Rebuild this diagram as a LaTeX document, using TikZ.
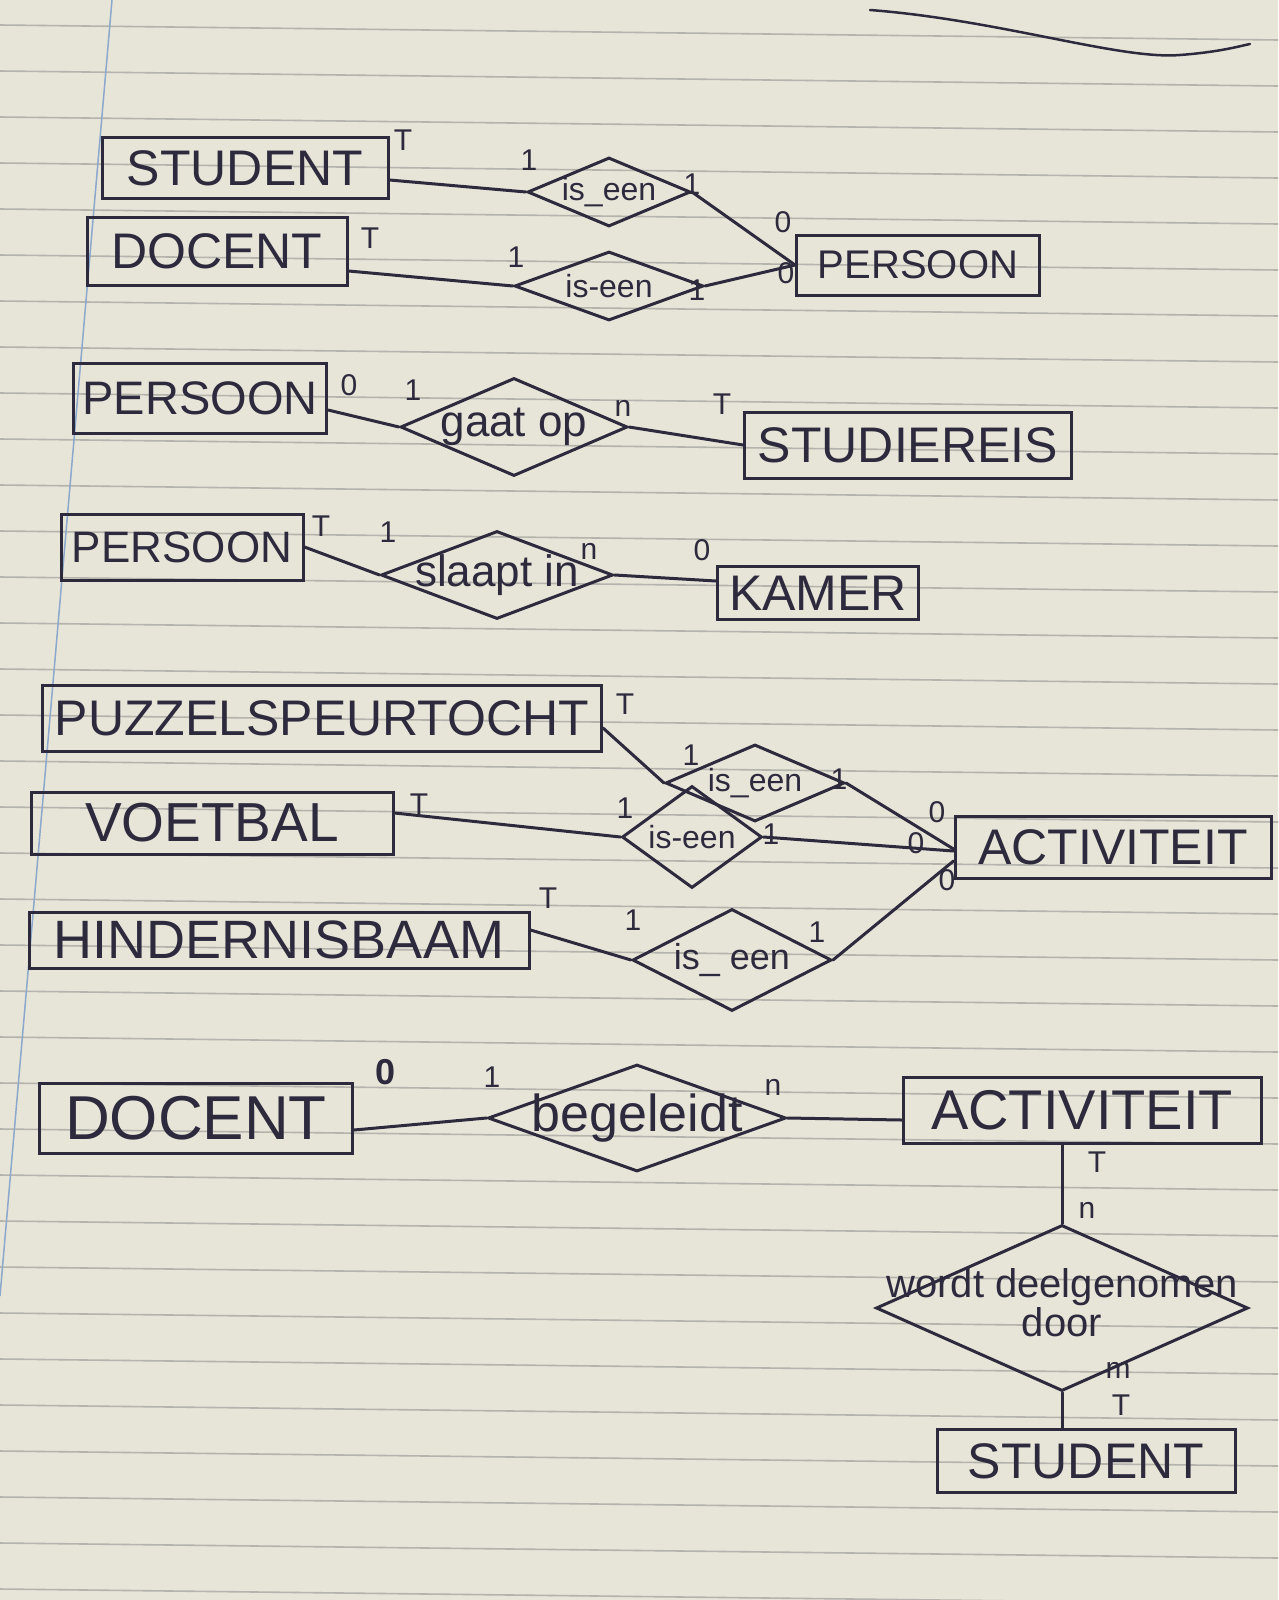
\documentclass[tikz,border=0pt]{standalone}
\usepackage{fontspec}
\setmainfont{Liberation Sans}
\usetikzlibrary{shapes.geometric}
\definecolor{paper}{RGB}{231,228,216}
\definecolor{ink}{RGB}{45,42,62}
\definecolor{ruleline}{RGB}{180,179,172}
\definecolor{marginline}{RGB}{140,168,205}
\newcommand{\fs}[1]{\fontsize{#1}{#1}\selectfont}
\begin{document}
\begin{tikzpicture}[x=1pt,y=-1pt,
  ent/.style={draw=ink, line width=3pt, inner sep=0pt, text=ink, font=\fs{50}},
  rel/.style={draw=ink, line width=3pt, shape=diamond, inner sep=0pt, text=ink},
  card/.style={text=ink, inner sep=0pt, font=\fs{30}},
  conn/.style={draw=ink, line width=3pt, line cap=round}]
\useasboundingbox (0,0) rectangle (1278,1600);
\fill[paper] (0,0) rectangle (1278,1600);
% ruled paper
\foreach \k in {0,...,34}{
  \pgfmathsetmacro\ya{25+46*\k}
  \pgfmathsetmacro\yb{\ya+15}
  \draw[ruleline, line width=1.6pt] (0,\ya) -- (1278,\yb);
}
\draw[marginline, line width=1.5pt] (112,0) -- (0,1296);
% crossed-out heading stroke
\draw[ink, line width=2.5pt, line cap=round] (870,10) .. controls (1000,20) and (1120,60) .. (1180,55) .. controls (1220,52) and (1240,46) .. (1250,44);

% ---------- section 1 ----------
\node[ent, minimum width=286pt, minimum height=61pt] (stud1) at (245,168) {STUDENT};
\node[ent, minimum width=260pt, minimum height=68pt] (doc1) at (217,251) {DOCENT};
\node[ent, minimum width=243pt, minimum height=60pt, font=\fs{40}] (pers1) at (918,265) {PERSOON};
\node[rel, minimum width=163pt, minimum height=69pt, font=\fs{32}] (isA) at (609,192) {\makebox[0pt]{is\_een}};
\node[rel, minimum width=189pt, minimum height=69pt, font=\fs{32}] (isB) at (609,286) {\makebox[0pt]{is-een}};
\draw[conn] ([yshift=-12pt]stud1.east) -- (isA.west);
\draw[conn] (isA.east) -- (pers1.west);
\draw[conn] ([yshift=-20pt]doc1.east) -- (isB.west);
\draw[conn] (isB.east) -- (pers1.west);
\node[card] (c1a) at (403,140) {T};
\node[card] (c1b) at (529,160) {1};
\node[card] (c1c) at (692,184) {1};
\node[card] (c1d) at (370,238) {T};
\node[card] (c1e) at (516,257) {1};
\node[card] (c1f) at (697,290) {1};
\node[card] (c1g) at (783,222) {0};
\node[card] (c1h) at (786,273) {0};

% ---------- section 2 ----------
\node[ent, minimum width=253pt, minimum height=70pt, font=\fs{47}] (pers2) at (200,398) {PERSOON};
\node[ent, minimum width=327pt, minimum height=66pt] (reis) at (908,445) {STUDIEREIS};
\node[rel, minimum width=227pt, minimum height=98pt, font=\fs{44}] (gaat) at (514,427) {\makebox[0pt]{gaat op}};
\draw[conn] ([yshift=-12pt]pers2.east) -- (gaat.west);
\draw[conn] (gaat.east) -- (reis.west);
\node[card] (c2a) at (349,385) {0};
\node[card] (c2b) at (413,390) {1};
\node[card] (c2c) at (623,408) {n};
\node[card] (c2d) at (722,404) {T};

% ---------- section 3 ----------
\node[ent, minimum width=242pt, minimum height=66pt, font=\fs{44}] (pers3) at (182,547) {PERSOON};
\node[ent, minimum width=201pt, minimum height=53pt] (kamer) at (818,593) {KAMER};
\node[rel, minimum width=232pt, minimum height=88pt, font=\fs{44}] (slaapt) at (497,575) {\makebox[0pt]{slaapt in}};
\draw[conn] (pers3.east) -- (slaapt.west);
\draw[conn] (slaapt.east) -- ([yshift=12pt]kamer.west);
\node[card] (c3a) at (321,526) {T};
\node[card] (c3b) at (388,532) {1};
\node[card] (c3c) at (589,551) {n};
\node[card] (c3d) at (702,550) {0};

% ---------- section 4 ----------
\node[ent, minimum width=559pt, minimum height=66pt] (puz) at (322,718) {PUZZELSPEURTOCHT};
\node[ent, minimum width=362pt, minimum height=62pt, font=\fs{55}] (voet) at (212,823) {VOETBAL};
\node[ent, minimum width=500pt, minimum height=56pt, font=\fs{54}] (hind) at (279,940) {HINDERNISBAAM};
\node[ent, minimum width=316pt, minimum height=62pt, font=\fs{50}] (act1) at (1113,847) {ACTIVITEIT};
\node[rel, minimum width=179pt, minimum height=77pt, font=\fs{32}] (isE) at (755,783) {\makebox[0pt]{is\_een}};
\node[rel, minimum width=140pt, minimum height=102pt, font=\fs{32}] (isF) at (692,837) {\makebox[0pt]{is-een}};
\node[rel, minimum width=199pt, minimum height=102pt, font=\fs{36}] (isG) at (732,960) {\makebox[0pt]{is\_ een}};
\draw[conn] ([yshift=-10pt]puz.east) -- (isE.west);
\draw[conn] (isE.east) -- ([yshift=-2pt]act1.west);
\draw[conn] ([yshift=10pt]voet.east) -- (isF.west);
\draw[conn] (isF.east) -- ([yshift=-4pt]act1.west);
\draw[conn] ([yshift=10pt]hind.east) -- (isG.west);
\draw[conn] (isG.east) -- ([yshift=-14pt]act1.west);
\node[card] (c4a) at (625,704) {T};
\node[card] (c4b) at (691,755) {1};
\node[card] (c4c) at (839,779) {1};
\node[card] (c4d) at (419,804) {T};
\node[card] (c4e) at (625,808) {1};
\node[card] (c4f) at (771,834) {1};
\node[card] (c4g) at (937,812) {0};
\node[card] (c4h) at (916,843) {0};
\node[card] (c4i) at (947,880) {0};
\node[card] (c4j) at (548,898) {T};
\node[card] (c4k) at (633,920) {1};
\node[card] (c4l) at (817,932) {1};

% ---------- section 5 ----------
\node[ent, minimum width=313pt, minimum height=70pt, font=\fs{62}] (doc2) at (196,1118) {DOCENT};
\node[ent, minimum width=358pt, minimum height=66pt, font=\fs{56}] (act2) at (1082,1110) {ACTIVITEIT};
\node[ent, minimum width=298pt, minimum height=63pt] (stud2) at (1086,1461) {STUDENT};
\node[rel, minimum width=298pt, minimum height=107pt, font=\fs{52}] (beg) at (637,1118) {\makebox[0pt]{begeleidt}};
\node[rel, minimum width=372pt, minimum height=166pt, font=\fs{40}] (wdd) at (1062,1308) {\makebox[0pt]{\raisebox{-18pt}{\begin{tabular}{@{}c@{}}wordt deelgenomen\\[-2pt]door\end{tabular}}}};
\draw[conn] ([yshift=-12pt]doc2.east) -- (beg.west);
\draw[conn] (beg.east) -- ([yshift=-10pt]act2.west);
\draw[conn] (wdd.north |- act2.south) -- (wdd.north);
\draw[conn] (wdd.south) -- (wdd.south |- stud2.north);
\node[card, font=\bfseries\fs{36}] (c5a) at (386,1072) {0};
\node[card] (c5b) at (492,1077) {1};
\node[card] (c5c) at (773,1087) {n};
\node[card] (c5d) at (1097,1162) {T};
\node[card] (c5e) at (1087,1210) {n};
\node[card] (c5f) at (1118,1370) {m};
\node[card] (c5g) at (1121,1405) {T};
\end{tikzpicture}
\end{document}
